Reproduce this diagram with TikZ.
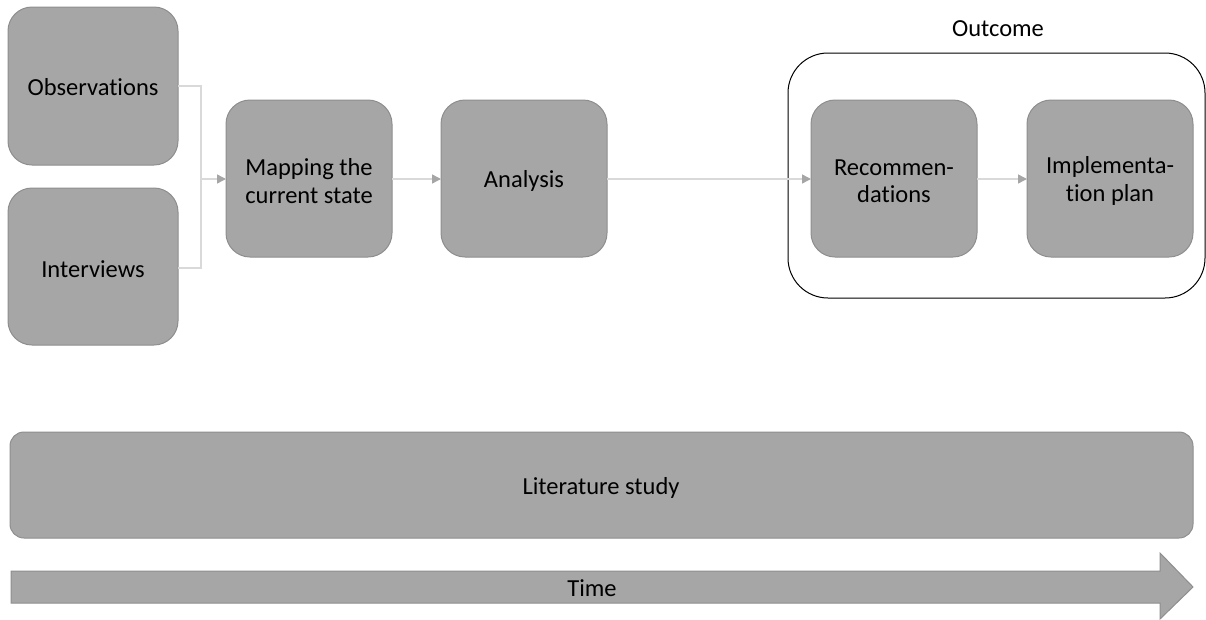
\documentclass[tikz,border=0pt]{standalone}
\usepackage{fontspec}
\setmainfont[Ligatures={NoCommon}]{Carlito}
\usetikzlibrary{arrows.meta}
\definecolor{boxfill}{HTML}{A6A6A6}
\definecolor{boxline}{HTML}{8E8E8E}
\definecolor{conn}{HTML}{D9D9D9}
\definecolor{tipc}{HTML}{A6A6A6}
\begin{document}
\begin{tikzpicture}[x=1pt,y=-1pt,
  stepbox/.style={draw=boxline,fill=boxfill,line width=1pt,rounded corners=24pt},
  lbl/.style={font=\fontsize{24.5}{27.5}\selectfont,align=center,text=black,inner sep=0pt},
  conline/.style={draw=conn,line width=1.5pt},
  conarrow/.style={conline,-{Triangle[length=9pt,width=9pt,fill=tipc,color=tipc]}}]
\useasboundingbox (0,0) rectangle (1206,619);
% boxes
\path[stepbox] (8,7) rectangle (178,165);
\node[lbl] (obs) at (93,87) {Observations};
\path[stepbox] (8,188) rectangle (178,345);
\node[lbl] (int) at (93,269) {Interviews};
\path[stepbox] (226,100) rectangle (392,257);
\node[lbl] (map) at (309,181) {Mapping the\\current state};
\path[stepbox] (441,100) rectangle (607,257);
\node[lbl] (ana) at (524,181) {Analysis};
\draw[black,line width=1pt,rounded corners=40pt] (788,53) rectangle (1205,298);
\node[lbl] (outc) at (998,29) {Outcome};
\path[stepbox] (811,100) rectangle (977,257);
\node[lbl] (rec) at (894,181) {Recommen-\\dations};
\path[stepbox] (1027,100) rectangle (1193,257);
\node[lbl] (imp) at (1110,181) {Implementa-\\tion plan};
\path[stepbox,rounded corners=14pt] (10,432) rectangle (1193,538);
\node[lbl] (lit) at (601,488) {Literature study};
% time arrow
\path[draw=boxline,fill=boxfill,line width=1pt] (11,571) -- (1160,571) -- (1160,553) -- (1193,587) -- (1160,619) -- (1160,603) -- (11,603) -- cycle;
\node[lbl] (time) at (592,588) {Time};
% connectors
\coordinate (obsr) at (178,86);
\coordinate (intr) at (178,268);
\coordinate (jn) at (201,179);
\coordinate (mapl) at (226,179);
\draw[conline] (obsr) -- (201,86) -- (201,268) -- (intr);
\draw[conarrow] (jn) -- (mapl);
\coordinate (mapr) at (392,179);
\coordinate (anal) at (441,179);
\draw[conarrow] (mapr) -- (anal);
\coordinate (anar) at (607,179);
\coordinate (recl) at (811,179);
\draw[conarrow] (anar) -- (recl);
\coordinate (recr) at (977,179);
\coordinate (impl) at (1027,179);
\draw[conarrow] (recr) -- (impl);
\end{tikzpicture}
\end{document}
